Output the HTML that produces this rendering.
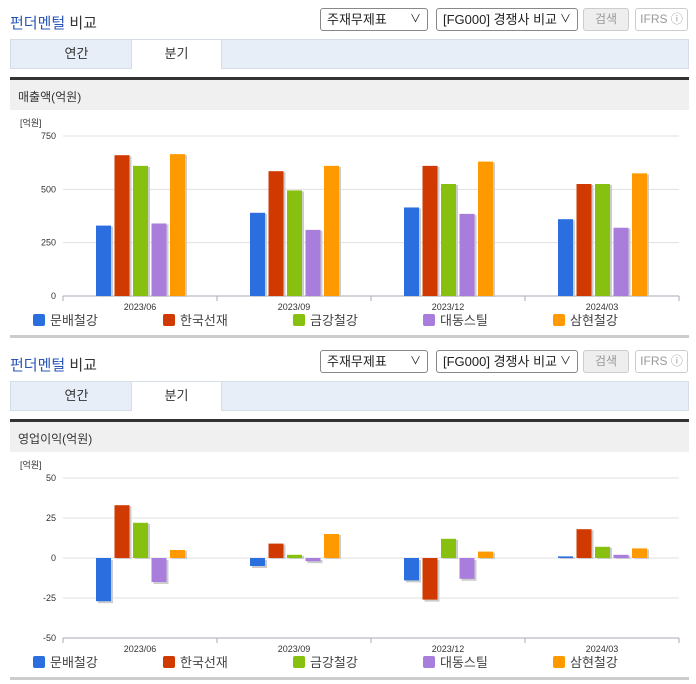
<!DOCTYPE html>
<html><head><meta charset="utf-8">
<style>
*{box-sizing:border-box;margin:0;padding:0}
body{width:696px;height:684px;background:#fff;font-family:"Liberation Sans","Noto Sans CJK KR",sans-serif;position:relative;overflow:hidden}
.sec{position:absolute;left:0;width:696px;height:342px}
.title{position:absolute;left:10px;top:12px;font-size:15px;color:#333}
.title b{color:#2a56b8;font-weight:normal}
.sel{position:absolute;top:8px;height:23px;border:1px solid #888;border-radius:3px;font-size:13px;padding:1px 6px;line-height:19px;color:#222;background:#fff}
.sel i{position:absolute;right:6px;top:1px;font-style:normal;font-size:11px}
.btn{position:absolute;top:8px;height:23px;border:1px solid #ccc;border-radius:3px;font-size:12px;color:#999;text-align:center;line-height:21px}
.tabs{position:absolute;left:10px;top:39px;width:679px;height:30px;background:#e8eef7;border:1px solid #d6dde8}
.tab{position:absolute;top:0;height:29px;width:91px;text-align:center;line-height:28px;font-size:13px;color:#333}
.tab.on{background:#fff;border-left:1px solid #d6dde8;border-right:1px solid #d6dde8}
.hdr{position:absolute;left:10px;top:77px;width:679px;height:33px;background:#f0f0f0;border-top:3px solid #333;font-size:12px;color:#333;padding:8px 8px}
.bot{position:absolute;left:10px;top:335px;width:679px;height:3px;background:#ccc}
svg{position:absolute;left:0;top:0}
</style></head><body>
<div class="sec" style="top:0">
 <div class="title"><b>펀더멘털</b> 비교</div>
 <div class="sel" style="left:320px;width:108px">주재무제표<i>&#x2228;</i></div>
 <div class="sel" style="left:436px;width:142px">[FG000] 경쟁사 비교<i>&#x2228;</i></div>
 <div class="btn" style="left:583px;width:46px;background:#eee">검색</div>
 <div class="btn" style="left:635px;width:53px">IFRS ⓘ</div>
 <div class="tabs">
  <div class="tab" style="left:20px">연간</div>
  <div class="tab on" style="left:120px">분기</div>
 </div>
 <div class="hdr">매출액(억원)</div>
 <svg id="c1" width="696" height="342"></svg>
 <div class="bot"></div>
</div>
<div class="sec" style="top:342px">
 <div class="title"><b>펀더멘털</b> 비교</div>
 <div class="sel" style="left:320px;width:108px">주재무제표<i>&#x2228;</i></div>
 <div class="sel" style="left:436px;width:142px">[FG000] 경쟁사 비교<i>&#x2228;</i></div>
 <div class="btn" style="left:583px;width:46px;background:#eee">검색</div>
 <div class="btn" style="left:635px;width:53px">IFRS ⓘ</div>
 <div class="tabs">
  <div class="tab" style="left:20px">연간</div>
  <div class="tab on" style="left:120px">분기</div>
 </div>
 <div class="hdr">영업이익(억원)</div>
 <svg id="c2" width="696" height="342"></svg>
 <div class="bot"></div>
</div>
<script>
const categories=["2023/06","2023/09","2023/12","2024/03"];
const companies=["문배철강","한국선재","금강철강","대동스틸","삼현철강"];
const colors=["#2a6ee0","#d03a00","#88c010","#a97ddb","#ff9900"];
const revenue=[[330,390,415,360],[660,585,610,525],[610,495,525,525],[340,310,385,320],[665,610,630,575]];
const revTicks=[0,250,500,750];
const opIncome=[[-27,-5,-14,1],[33,9,-26,18],[22,2,12,7],[-15,-2,-13,2],[5,15,4,6]];
const opTicks=[-50,-25,0,25,50];
const NS="http://www.w3.org/2000/svg";
function mk(svg,tag,a){const e=document.createElementNS(NS,tag);for(const k in a)e.setAttribute(k,a[k]);svg.appendChild(e);return e;}
function draw(id,series,ticks,yTop,yBot,legY){
 const svg=document.getElementById(id);
 const min=ticks[0],max=ticks[ticks.length-1];
 const y=v=>yBot-(v-min)/(max-min)*(yBot-yTop);
 const x0=63,x1=679,cw=(x1-x0)/categories.length;
 let t=mk(svg,'text',{x:20,y:yTop-10,'font-size':9,fill:'#333'});t.textContent='[억원]';
 
 ticks.forEach(v=>{
  const l=mk(svg,'line',{x1:x0,x2:x1,y1:y(v),y2:y(v),stroke:v===min?'#aab':'#e0e0e0'});
  
  const tx=mk(svg,'text',{x:56,y:y(v)+3,'font-size':9,fill:'#333','text-anchor':'end'});tx.textContent=v;
  
 });
 for(let i=0;i<=categories.length;i++){mk(svg,'line',{x1:x0+i*cw,x2:x0+i*cw,y1:yBot,y2:yBot+5,stroke:'#aab'});}
 const z=y(Math.max(0,min));
 categories.forEach((c,ci)=>{
  const cx=x0+cw*(ci+0.5);
  const tx=mk(svg,'text',{x:cx,y:yBot+14,'font-size':9,fill:'#333','text-anchor':'middle'});tx.textContent=c;
  
  series.forEach((s,si)=>{
   const bx=cx-44+si*18.5, v=s[ci], top=Math.min(y(v),z), h=Math.abs(y(v)-z);
   const sh=mk(svg,'rect',{x:bx+2,y:top+(v<0?2:1),width:15,height:Math.max(h,1),fill:'#ccc'});
   
   const r=mk(svg,'rect',{x:bx,y:top,width:15,height:Math.max(h,1),fill:colors[si]});
   
  });
 });
 const lx=[33,163,293,423,553];
 companies.forEach((n,i)=>{
  const r=mk(svg,'rect',{x:lx[i],y:legY-6,width:12,height:12,rx:2,fill:colors[i]});
  
  const tx=mk(svg,'text',{x:lx[i]+17,y:legY+5,'font-size':13,fill:'#444'});tx.textContent=n;
  
 });
}
draw('c1',revenue,revTicks,136,296,320);
draw('c2',opIncome,opTicks,136,296,320);
</script>
</body></html>
